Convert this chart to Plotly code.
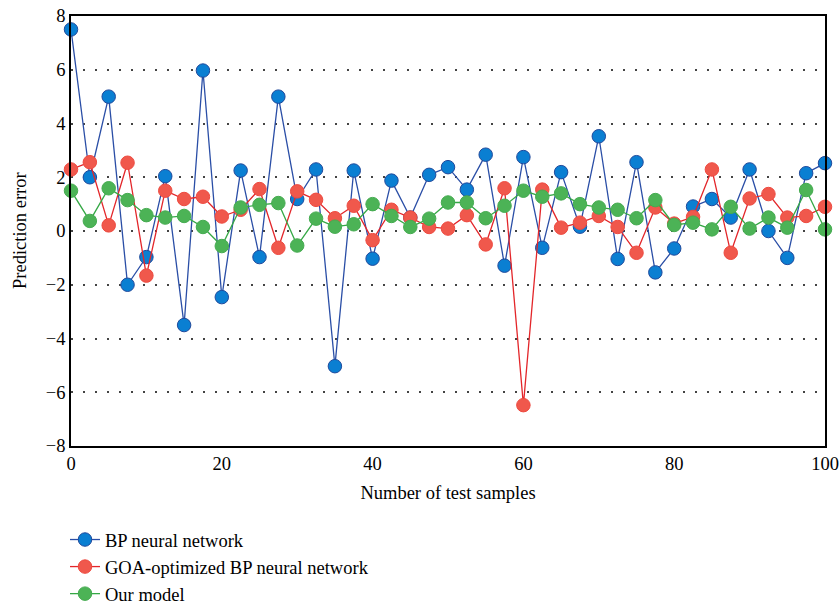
import plotly.graph_objects as go

x_samples = [i * 2.5 for i in range(41)]

bp_nn = [7.5, 2.0, 5.0, -2.0, -0.97, 2.04, -3.5, 5.97, -2.46, 2.25, -0.97,
         5.0, 1.19, 2.29, -5.03, 2.25, -1.03, 1.875, 0.5, 2.09, 2.375,
         1.54, 2.84, -1.29, 2.75, -0.625, 2.19, 0.16, 3.525, -1.04, 2.56,
         -1.54, -0.65, 0.91, 1.19, 0.5, 2.29, 0.0, -1.0, 2.15, 2.525]

goa_bp = [2.29, 2.56, 0.21, 2.54, -1.66, 1.5, 1.19, 1.275, 0.54, 0.79, 1.56,
          -0.625, 1.475, 1.16, 0.475, 0.94, -0.34, 0.79, 0.5, 0.15, 0.09,
          0.59, -0.5, 1.59, -6.48, 1.54, 0.125, 0.31, 0.56, 0.15, -0.81,
          0.875, 0.275, 0.525, 2.29, -0.81, 1.21, 1.375, 0.5, 0.56, 0.9]

our_model = [1.5, 0.375, 1.59, 1.15, 0.59, 0.5, 0.56, 0.15, -0.56, 0.875, 0.975,
             1.04, -0.54, 0.46, 0.16, 0.25, 1.0, 0.56, 0.15, 0.46, 1.06,
             1.06, 0.475, 0.94, 1.5, 1.275, 1.4, 1.0, 0.875, 0.79, 0.475,
             1.15, 0.225, 0.31, 0.06, 0.9, 0.09, 0.5, 0.125, 1.525, 0.06]

y_ticks = [-8, -6, -4, -2, 0, 2, 4, 6, 8]
x_ticks = [0, 20, 40, 60, 80, 100]

series = [
    ("BP neural network", bp_nn, "#2a4ea6", "#0a7fd2", "#214a9c"),
    ("GOA-optimized BP neural network", goa_bp, "#e3262a", "#f0584c", "#ee4a40"),
    ("Our model", our_model, "#35a845", "#4cb356", "#45ab50"),
]

FONT = "Liberation Serif"
FS = 18.5

fig = go.Figure()
for name, vals, lc, fc, ec in series:
    fig.add_trace(go.Scatter(
        x=x_samples, y=vals, name=name, mode="lines+markers",
        line=dict(color=lc, width=1.3),
        marker=dict(size=13.5, color=fc, line=dict(color=ec, width=1)),
        cliponaxis=False,
    ))

fig.update_layout(
    width=840, height=608,
    margin=dict(l=71, r=15, t=16, b=162, autoexpand=False),
    paper_bgcolor="white", plot_bgcolor="white",
    font=dict(family=FONT, size=FS, color="black"),
    showlegend=True,
    legend=dict(
        xref="container", yref="container",
        x=65 / 840, y=1 - 521 / 608, xanchor="left", yanchor="top",
        orientation="v", font=dict(family=FONT, size=FS, color="black"),
        bgcolor="rgba(0,0,0,0)", tracegroupgap=4, traceorder="normal",
    ),
    xaxis=dict(
        range=[0, 100], tickvals=x_ticks, showgrid=False, zeroline=False,
        showline=True, linecolor="black", linewidth=1.5, mirror=True,
        ticks="", tickfont=dict(family=FONT, size=FS), automargin=False,
        title=dict(text="Number of test samples", standoff=13,
                   font=dict(family=FONT, size=FS)),
    ),
    yaxis=dict(
        range=[-8, 8], tickvals=y_ticks, showgrid=True,
        gridcolor="#444444", griddash="1.5px,10.5px", gridwidth=1.5,
        zeroline=False, automargin=False,
        showline=True, linecolor="black", linewidth=1.5, mirror=True,
        ticks="", tickfont=dict(family=FONT, size=FS),
    ),
    annotations=[dict(
        text="Prediction error", xref="paper", yref="paper",
        x=(20 - 71) / 754, y=0.5, xanchor="center", yanchor="middle",
        textangle=-90, showarrow=False,
        font=dict(family=FONT, size=FS, color="black"),
    )],
)

fig.write_html("out.html")
